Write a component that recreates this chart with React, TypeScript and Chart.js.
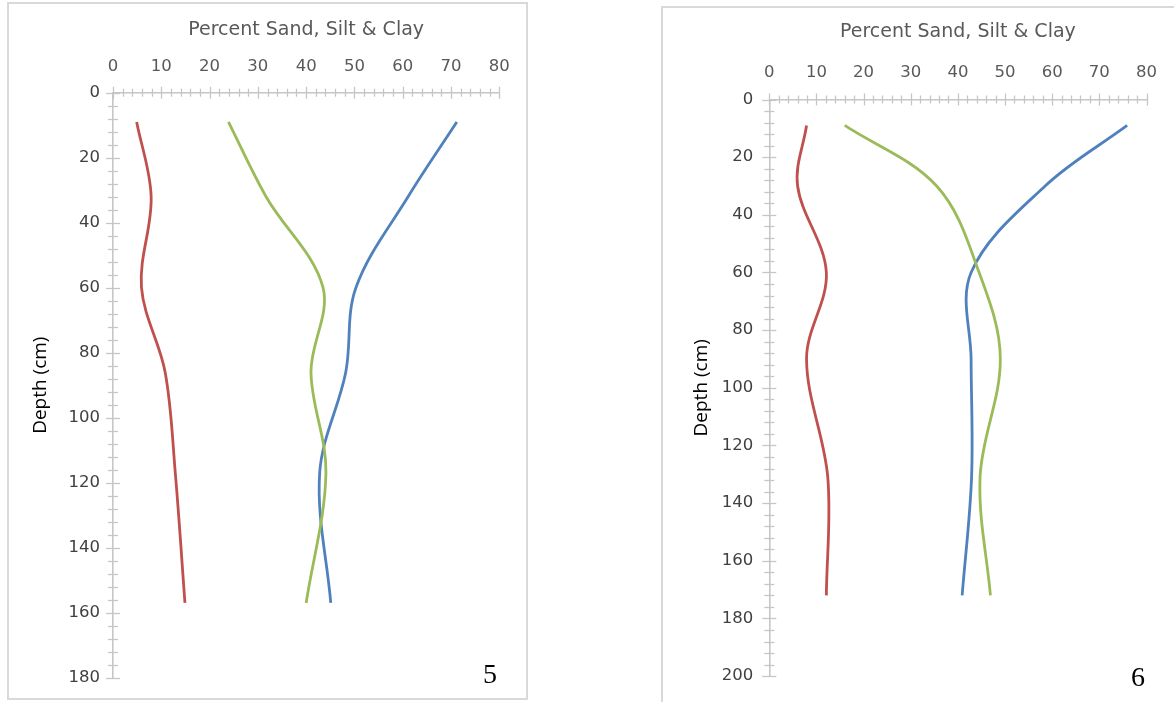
import React, { useEffect, useRef } from "react";
import { Chart, registerables } from "chart.js";

Chart.register(...registerables);

// Profile 5 — sample depths (cm) and particle-size fractions (%)
const depth5 = [9, 32, 60, 86, 117, 157];
const clay5 = [4.9, 7.9, 5.9, 10.8, 12.9, 14.9];
const silt5 = [23.9, 31.7, 43.5, 41.0, 44.1, 40.0];
const sand5 = [71.2, 61.1, 50.3, 48.2, 42.8, 45.1];

// Profile 6 — sample depths (cm) and particle-size fractions (%)
const depth6 = [9, 30, 60, 90, 131, 172];
const clay6 = [7.9, 6.0, 12.1, 7.9, 12.4, 12.1];
const silt6 = [16.0, 35.5, 44.5, 49.0, 44.7, 46.9];
const sand6 = [75.9, 58.5, 42.8, 42.8, 42.9, 40.9];

// Axis settings
const percentMin = 0;
const percentMax = 80;
const percentMajor = 10;
const percentMinor = 2;
const depthMajor = 20;
const depthMinor = 4;
const depthMax5 = 180;
const depthMax6 = 200;

const xTitle = "Percent Sand, Silt & Clay";
const yTitle = "Depth (cm)";

const CLAY_COLOR = "#C0504D";
const SILT_COLOR = "#9BBB59";
const SAND_COLOR = "#4F81BD";
const AXIS_COLOR = "#c6c6c6";
const TICK_FONT = "'DejaVu Sans', 'Open Sans', sans-serif";
const TITLE_FONT = "'DejaVu Sans', 'Open Sans', sans-serif";
const Y_TITLE_FONT = "'Open Sans', 'DejaVu Sans', sans-serif";

type PanelLayout = {
  left: number;
  width: number;
  height: number;
  xAxisHeight: number;
  yAxisWidth: number;
  padRight: number;
  padBottom: number;
  xTitlePad: number;
  yTitlePad: number;
  xTickPad: number;
  yTickPad: number;
};

const zip = (xs: number[], ys: number[]) => xs.map((x, i) => ({ x, y: ys[i] }));

// Excel-style "cross" tick marks: long at major steps, short at minor steps
const crossTicks = {
  id: "crossTicks",
  beforeDatasetsDraw(chart: any) {
    const { ctx, chartArea } = chart;
    const xs = chart.scales.x;
    const ys = chart.scales.y;
    ctx.save();
    ctx.strokeStyle = AXIS_COLOR;
    ctx.lineWidth = 1.3;
    const top = chartArea.top;
    for (const t of xs.ticks) {
      const px = Math.round(xs.getPixelForValue(t.value)) + 0.5;
      const h = t.value % percentMajor === 0 ? 6 : 4;
      ctx.beginPath();
      ctx.moveTo(px, top - h);
      ctx.lineTo(px, top + h);
      ctx.stroke();
    }
    const left = chartArea.left;
    for (const t of ys.ticks) {
      const py = Math.round(ys.getPixelForValue(t.value)) + 0.5;
      const w = t.value % depthMajor === 0 ? 7 : 5;
      ctx.beginPath();
      ctx.moveTo(left - w, py);
      ctx.lineTo(left + w, py);
      ctx.stroke();
    }
    ctx.restore();
  },
};

function ProfileChart(props: {
  depth: number[];
  clay: number[];
  silt: number[];
  sand: number[];
  depthMax: number;
  layout: PanelLayout;
}) {
  const ref = useRef<HTMLCanvasElement | null>(null);
  const { depth, clay, silt, sand, depthMax, layout } = props;

  useEffect(() => {
    if (!ref.current) return;
    const line = (data: number[], color: string, label: string) => ({
      label,
      data: zip(data, depth),
      showLine: true,
      borderColor: color,
      backgroundColor: color,
      borderWidth: 2.8,
      pointRadius: 0,
      tension: 0.35,
      fill: false,
    });
    const chart = new Chart(ref.current, {
      type: "scatter",
      data: {
        datasets: [
          line(clay, CLAY_COLOR, "Clay"),
          line(silt, SILT_COLOR, "Silt"),
          line(sand, SAND_COLOR, "Sand"),
        ],
      },
      options: {
        responsive: false,
        animation: false,
        devicePixelRatio: 1,
        layout: {
          padding: { left: 0, top: 0, right: layout.padRight, bottom: layout.padBottom },
        },
        plugins: {
          legend: { display: false },
          tooltip: { enabled: false },
        },
        scales: {
          x: {
            type: "linear",
            position: "top",
            min: percentMin,
            max: percentMax,
            grid: { display: false, drawTicks: false },
            border: { display: true, color: AXIS_COLOR, width: 1.6 },
            ticks: {
              stepSize: percentMinor,
              autoSkip: false,
              maxRotation: 0,
              padding: layout.xTickPad,
              color: "#595959",
              font: { family: TICK_FONT, size: 16.5 },
              callback: (v: any) => (Number(v) % percentMajor === 0 ? String(v) : ""),
            },
            title: {
              display: true,
              text: xTitle,
              color: "#595959",
              font: { family: TITLE_FONT, size: 19 },
              padding: { top: layout.xTitlePad, bottom: 0 },
            },
            afterFit: (s: any) => {
              s.height = layout.xAxisHeight;
            },
          },
          y: {
            type: "linear",
            position: "left",
            reverse: true,
            min: 0,
            max: depthMax,
            grid: { display: false, drawTicks: false },
            border: { display: true, color: AXIS_COLOR, width: 1.6 },
            ticks: {
              stepSize: depthMinor,
              autoSkip: false,
              padding: layout.yTickPad,
              color: "#404040",
              font: { family: TICK_FONT, size: 16.5 },
              callback: (v: any) => (Number(v) % depthMajor === 0 ? String(v) : ""),
            },
            title: {
              display: true,
              text: yTitle,
              color: "#000000",
              font: { family: Y_TITLE_FONT, size: 19 },
              padding: { top: layout.yTitlePad, bottom: 0 },
            },
            afterFit: (s: any) => {
              s.width = layout.yAxisWidth;
            },
          },
        },
      },
      plugins: [crossTicks],
    });
    return () => chart.destroy();
  }, []);

  return (
    <canvas
      ref={ref}
      width={layout.width}
      height={layout.height}
      style={{
        position: "absolute",
        left: layout.left,
        top: 0,
        width: layout.width,
        height: layout.height,
      }}
    />
  );
}

const layout5: PanelLayout = {
  left: 0,
  width: 540,
  height: 702,
  xAxisHeight: 92.7,
  yAxisWidth: 113,
  padRight: 40.7,
  padBottom: 24.3,
  xTitlePad: 19,
  yTitlePad: 29,
  xTickPad: 16,
  yTickPad: 13,
};

const layout6: PanelLayout = {
  left: 650,
  width: 524,
  height: 702,
  xAxisHeight: 99.5,
  yAxisWidth: 119.3,
  padRight: 18.5,
  padBottom: 18.6,
  xTitlePad: 21,
  yTitlePad: 40,
  xTickPad: 17,
  yTickPad: 16,
};

const panelBox = (left: number, top: number, width: number, height: number): React.CSSProperties => ({
  position: "absolute",
  left,
  top,
  width,
  height,
  border: "2px solid #d9d9d9",
  boxSizing: "border-box",
  background: "#ffffff",
});

const numberStyle = (x: number, y: number): React.CSSProperties => ({
  position: "absolute",
  left: x,
  top: y,
  transform: "translate(-50%, -50%)",
  fontFamily: "'Liberation Serif', 'Times New Roman', serif",
  fontSize: 28,
  lineHeight: 1,
  color: "#000",
});

export default function App() {
  return (
    <div
      style={{
        position: "fixed",
        left: 0,
        top: 0,
        width: 1174,
        height: 702,
        overflow: "hidden",
        background: "#ffffff",
      }}
    >
      <div style={panelBox(7, 2, 521, 698)} />
      <div style={panelBox(661, 6, 600, 800)} />
      <ProfileChart depth={depth5} clay={clay5} silt={silt5} sand={sand5} depthMax={depthMax5} layout={layout5} />
      <ProfileChart depth={depth6} clay={clay6} silt={silt6} sand={sand6} depthMax={depthMax6} layout={layout6} />
      <div style={numberStyle(490, 674)}>5</div>
      <div style={numberStyle(1138, 677)}>6</div>
    </div>
  );
}
